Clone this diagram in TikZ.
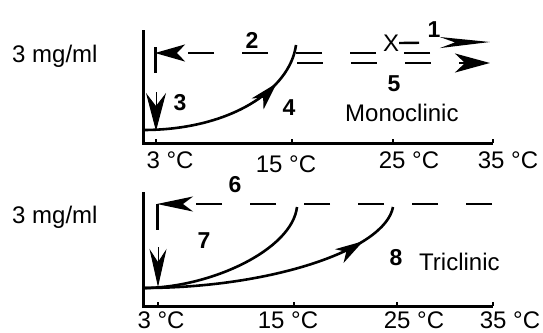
\documentclass[tikz,border=0pt]{standalone}
\usepackage{fontspec}
\setmainfont{Liberation Sans}
\usetikzlibrary{arrows.meta,decorations.markings}

\begin{document}
\begin{tikzpicture}[x=1pt,y=-1pt,
    axis/.style={line width=3pt,line join=miter},
    curve/.style={line width=2.6pt},
    dashline/.style={line width=2.4pt,dash pattern=on 26pt off 28pt},
    bar/.style={line width=3pt},
    tickmark/.style={line width=1.5pt},
    lab/.style={font=\fontsize{24}{28}\selectfont,inner sep=0pt},
    num/.style={font=\fontsize{23}{26}\selectfont\bfseries,inner sep=0pt},
    midhead/.style={postaction={decorate},decoration={markings,
      mark=at position #1 with {\arrow{Stealth[length=28pt,width=16pt,inset=8pt]}}}}]
    \useasboundingbox (0,0) rectangle (543,332);

    % monoclinic panel
    \coordinate (mtop) at (143,30);
    \coordinate (morig) at (143,143);
    \coordinate (mend) at (493,143);
    \draw[axis] (mtop) -- (morig) -- (mend);
    \foreach \x in {156,292,393,493}
        \draw[tickmark] (\x,143) -- (\x,139);
    \node[lab,anchor=base] (m3) at (170,168) {3 °C};
    \node[lab,anchor=base] (m15) at (286,172) {15 °C};
    \node[lab,anchor=base] (m25) at (409,168) {25 °C};
    \node[lab,anchor=base] (m35) at (508,168) {35 °C};
    \node[lab,anchor=base west] (mconc) at (12,62) {3 mg/ml};
    \node[lab,anchor=base west] (mono) at (345,121) {Monoclinic};

    \coordinate (c4s) at (143,130);
    \coordinate (c4e) at (296,45);
    \draw[curve,midhead=0.77] (c4s) .. controls (230,130) and (290,90) .. (c4e);

    \coordinate (d2s) at (430,53);
    \coordinate (d2e) at (155,53);
    \draw[dashline,-{Stealth[length=30pt,width=17pt,inset=8pt]}] (d2s) -- (d2e);
    \coordinate (bar1a) at (155,47);
    \coordinate (bar1b) at (155,73);
    \draw[bar] (bar1a) -- (bar1b);

    \coordinate (d5s) at (297,63);
    \coordinate (d5e) at (490,63);
    \draw[dashline,-{Stealth[length=35pt,width=19pt,inset=10pt]}] (d5s) -- (d5e);

    \node[lab] (cross) at (391,43) {X};
    \coordinate (d1e) at (490,42);
    \draw[line width=2.4pt,dash pattern=on 20pt off 40pt,
          -{Stealth[length=50pt,width=11pt,inset=15pt]}] (cross.east) -- (d1e);

    \coordinate (a3s) at (156,92);
    \coordinate (a3e) at (156,131);
    \draw[line width=1pt,-{Stealth[length=38pt,width=20pt,inset=13pt]}] (a3s) -- (a3e);

    \node[num] (n1) at (434,30) {1};
    \node[num] (n2) at (252,40) {2};
    \node[num] (n3) at (180,103) {3};
    \node[num] (n4) at (289,108) {4};
    \node[num] (n5) at (394,84) {5};

    % triclinic panel
    \coordinate (ttop) at (143,192);
    \coordinate (torig) at (143,306);
    \coordinate (tend) at (493,306);
    \draw[axis] (ttop) -- (torig) -- (tend);
    \foreach \x in {158,294,397,493}
        \draw[tickmark] (\x,306) -- (\x,302);
    \node[lab,anchor=base] (t3) at (161,328) {3 °C};
    \node[lab,anchor=base] (t15) at (288,328) {15 °C};
    \node[lab,anchor=base] (t25) at (414,328) {25 °C};
    \node[lab,anchor=base] (t35) at (510,328) {35 °C};
    \node[lab,anchor=base west] (tconc) at (12,223) {3 mg/ml};
    \node[lab,anchor=base west] (tri) at (419,270) {Triclinic};

    \coordinate (c8s) at (143,288);
    \coordinate (c8a) at (297,207);
    \coordinate (c8b) at (393,207);
    \draw[curve] (c8s) .. controls (210,288) and (292,250) .. (c8a);
    \draw[curve,midhead=0.83] (c8s) .. controls (270,288) and (385,250) .. (c8b);

    \coordinate (d6s) at (492,204);
    \coordinate (d6e) at (157,204);
    \draw[dashline,-{Stealth[length=36pt,width=15pt,inset=10pt]}] (d6s) -- (d6e);
    \coordinate (bar2a) at (157,204);
    \coordinate (bar2b) at (157,230);
    \draw[bar] (bar2a) -- (bar2b);

    \coordinate (a7s) at (158,247);
    \coordinate (a7e) at (158,287);
    \draw[line width=1pt,-{Stealth[length=38pt,width=17pt,inset=13pt]}] (a7s) -- (a7e);

    \node[num] (n6) at (235,185) {6};
    \node[num] (n7) at (204,241) {7};
    \node[num] (n8) at (396,258) {8};
\end{tikzpicture}
\end{document}
